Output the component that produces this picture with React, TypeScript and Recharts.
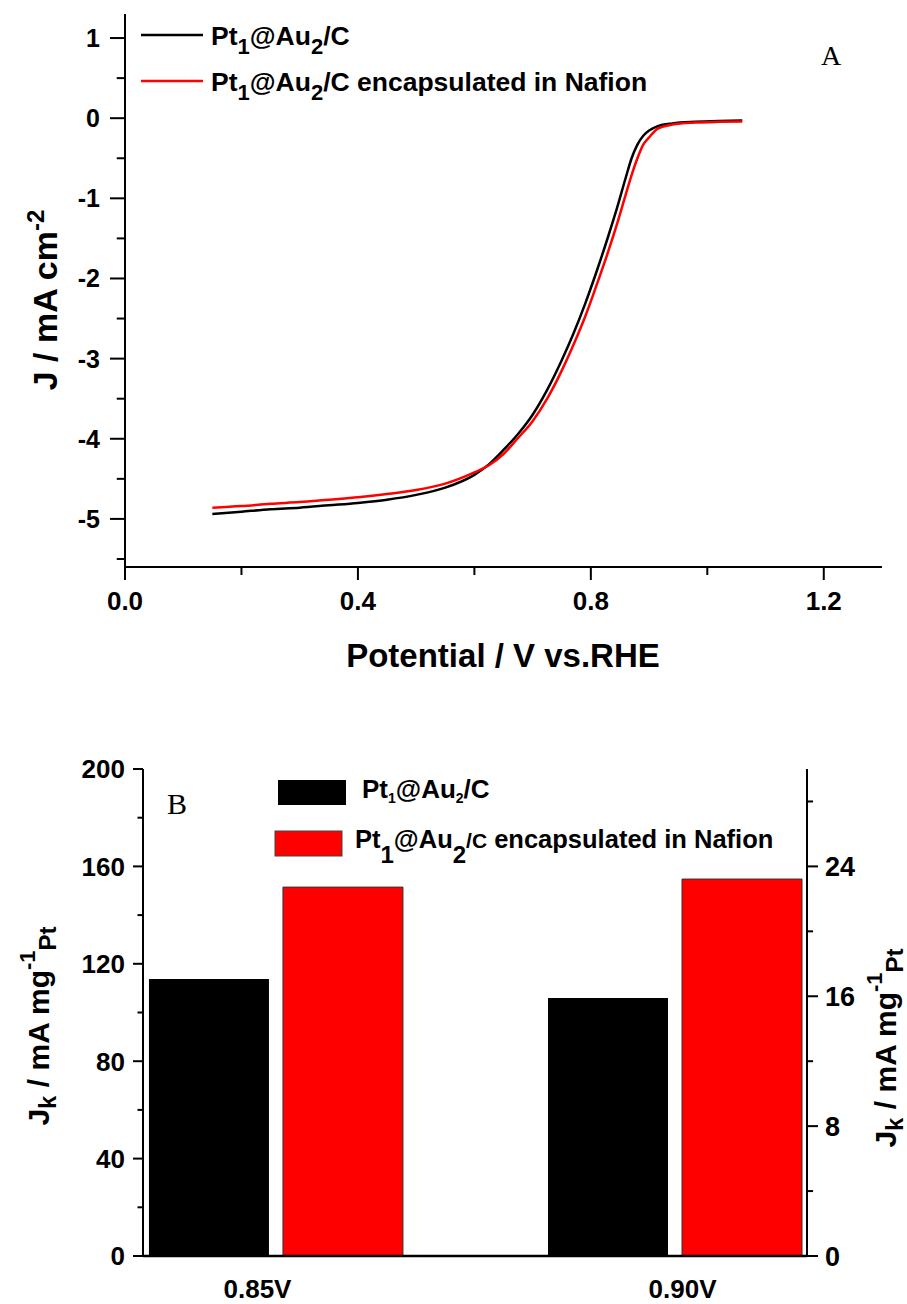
import React from 'react';
import { LineChart, Line, BarChart, Bar, XAxis, YAxis } from 'recharts';

// LSV curves (panel A)
const potential = [0.15, 0.2, 0.25, 0.3, 0.35, 0.4, 0.45, 0.5, 0.55, 0.6, 0.625, 0.65, 0.675, 0.7, 0.725, 0.75, 0.77, 0.79, 0.81, 0.83, 0.845, 0.86, 0.87, 0.88, 0.89, 0.9, 0.915, 0.94, 0.98, 1.02, 1.06];
const jPt = [-4.94, -4.91, -4.88, -4.86, -4.83, -4.8, -4.76, -4.7, -4.61, -4.45, -4.32, -4.14, -3.94, -3.7, -3.39, -3.02, -2.69, -2.32, -1.91, -1.47, -1.12, -0.74, -0.5, -0.33, -0.22, -0.155, -0.1, -0.065, -0.045, -0.035, -0.03];
const jPtNafion = [-4.86, -4.84, -4.81, -4.79, -4.76, -4.73, -4.69, -4.64, -4.56, -4.42, -4.33, -4.19, -3.99, -3.78, -3.5, -3.15, -2.83, -2.48, -2.08, -1.66, -1.32, -0.95, -0.71, -0.5, -0.33, -0.24, -0.13, -0.08, -0.055, -0.045, -0.04];

// mass activity (panel B)
const voltages = [0.85, 0.9];
const voltageLabels = ['0.85V', '0.90V'];
const jkPt = [113.8, 106.0];
const jkPtNafion = [151.5, 154.8];

const lsvTicksY = [-5.5, -5, -4.5, -4, -3.5, -3, -2.5, -2, -1.5, -1, -0.5, 0, 0.5, 1];
const lsvTicksX = [0, 0.2, 0.4, 0.6, 0.8, 1.0, 1.2];
const massTicks = [0, 20, 40, 60, 80, 100, 120, 140, 160, 180, 200];
const massTicksRight = [0, 4, 8, 12, 16, 20, 24, 28];

const lsvData = potential.map((v, i) => ({ v, a: jPt[i], b: jPtNafion[i] }));
const barData = voltages.map((v, i) => ({ v, a: jkPt[i], b: jkPtNafion[i] }));

const FONT = '"Liberation Sans", Arial, sans-serif';
const SERIF = '"Liberation Serif", "Times New Roman", serif';
const AXIS = { stroke: '#000', strokeWidth: 2 };

const isMajor = (v: number, step: number) => Math.abs(v / step - Math.round(v / step)) < 1e-6;

const leftTick = (len: number, gap: number, step: number, size: number, fmt: (v: number) => string) =>
  (props: any) => {
    const { x, y, payload } = props;
    const major = isMajor(payload.value, step);
    return (
      <g>
        <line x1={x - (major ? len : len * 0.55)} x2={x} y1={y} y2={y} stroke="#000" strokeWidth={2} />
        {major && (
          <text x={x - len - gap} y={y + size * 0.36} textAnchor="end" fontFamily={FONT} fontWeight="bold" fontSize={size} fill="#000">
            {fmt(payload.value)}
          </text>
        )}
      </g>
    );
  };

const rightTick = (len: number, gap: number, step: number, size: number) =>
  (props: any) => {
    const { x, y, payload } = props;
    const major = isMajor(payload.value, step);
    return (
      <g>
        <line x1={x} x2={x + (major ? len : len * 0.55)} y1={y} y2={y} stroke="#000" strokeWidth={2} />
        {major && (
          <text x={x + len + gap} y={y + size * 0.36} textAnchor="start" fontFamily={FONT} fontWeight="bold" fontSize={size} fill="#000">
            {payload.value}
          </text>
        )}
      </g>
    );
  };

const LsvXTick = (props: any) => {
  const { x, y, payload } = props;
  const major = isMajor(payload.value, 0.4);
  return (
    <g>
      <line x1={x} x2={x} y1={y} y2={y + (major ? 13 : 8)} stroke="#000" strokeWidth={2} />
      {major && (
        <text x={x} y={y + 43} textAnchor="middle" fontFamily={FONT} fontWeight="bold" fontSize={26} fill="#000">
          {payload.value.toFixed(1)}
        </text>
      )}
    </g>
  );
};

const labelShift = [-18, 8];
const BarXTick = (props: any) => {
  const { x, y, payload } = props;
  const i = voltages.indexOf(payload.value);
  return (
    <text x={x + (labelShift[i] || 0)} y={y + 42} textAnchor="middle" fontFamily={FONT} fontWeight="bold" fontSize={26} fill="#000">
      {voltageLabels[i]}
    </text>
  );
};

const LsvYTick = leftTick(15, 10, 1, 25, (v) => String(v));
const MassYTick = leftTick(10, 8, 40, 26, (v) => String(v));
const MassRightTick = rightTick(11, 7, 8, 27);

const bold = { fontFamily: FONT, fontWeight: 'bold' as const, fill: '#000' };

export default function App() {
  return (
    <div style={{ position: 'absolute', left: 0, top: 0, width: 907, height: 1304, background: '#fff' }}>
      <div style={{ position: 'absolute', left: 0, top: 0 }}>
        <LineChart width={907} height={700} data={lsvData} margin={{ top: 14, right: 25, left: 0, bottom: 0 }}>
          <XAxis dataKey="v" type="number" domain={[0, 1.3]} ticks={lsvTicksX} interval={0} height={133}
            axisLine={AXIS} tickLine={false} tickSize={0} tickMargin={0} tick={LsvXTick} allowDataOverflow />
          <XAxis xAxisId="top" orientation="top" type="number" domain={[0, 1.3]} height={0}
            axisLine={AXIS} tickLine={false} tick={false} allowDataOverflow />
          <YAxis type="number" domain={[-5.6, 1.3]} ticks={lsvTicksY} interval={0} width={125}
            axisLine={AXIS} tickLine={false} tickSize={0} tickMargin={0} tick={LsvYTick} allowDataOverflow />
          <YAxis yAxisId="right" orientation="right" type="number" domain={[-5.6, 1.3]} width={0}
            axisLine={AXIS} tickLine={false} tick={false} allowDataOverflow />
          <Line type="monotone" dataKey="a" stroke="#000" strokeWidth={2.5} dot={false} isAnimationActive={false} />
          <Line type="monotone" dataKey="b" stroke="#ff0000" strokeWidth={2.5} dot={false} isAnimationActive={false} />
        </LineChart>
      </div>
      <div style={{ position: 'absolute', left: 0, top: 700 }}>
        <BarChart width={907} height={604} data={barData} margin={{ top: 69, right: 0, left: 0, bottom: 0 }} barGap={14}>
          <XAxis dataKey="v" type="number" domain={[0.8334, 0.9166]} ticks={voltages} interval={0} height={48}
            axisLine={{ stroke: '#000', strokeWidth: 2.5 }} tickLine={false} tickSize={0} tickMargin={0} tick={BarXTick} allowDataOverflow />
          <XAxis xAxisId="top" orientation="top" type="number" domain={[0.8334, 0.9166]} height={0}
            axisLine={AXIS} tickLine={false} tick={false} allowDataOverflow />
          <YAxis yAxisId="left" type="number" domain={[0, 200]} ticks={massTicks} interval={0} width={143}
            axisLine={AXIS} tickLine={false} tickSize={0} tickMargin={0} tick={MassYTick} allowDataOverflow />
          <YAxis yAxisId="right" orientation="right" type="number" domain={[0, 30]} ticks={massTicksRight} interval={0} width={100}
            axisLine={AXIS} tickLine={false} tickSize={0} tickMargin={0} tick={MassRightTick} allowDataOverflow />
          <Bar yAxisId="left" dataKey="a" fill="#000" barSize={120} isAnimationActive={false} />
          <Bar yAxisId="left" dataKey="b" fill="#ff0000" stroke="#333" strokeWidth={1} barSize={120} isAnimationActive={false} />
        </BarChart>
      </div>
      <svg width={907} height={1304} style={{ position: 'absolute', left: 0, top: 0, pointerEvents: 'none' }}>
        {/* panel A */}
        <text transform="translate(57,300) rotate(-90)" textAnchor="middle" fontSize={34} {...bold}>
          J / mA cm<tspan dy={-13} fontSize={24}>-2</tspan>
        </text>
        <text x={503} y={667} textAnchor="middle" fontSize={33} {...bold}>Potential / V vs.RHE</text>
        <line x1={141} x2={203} y1={35} y2={35} stroke="#000" strokeWidth={2.5} />
        <line x1={141} x2={203} y1={81} y2={81} stroke="#ff0000" strokeWidth={2.5} />
        <text x={211} y={45} fontSize={26.5} {...bold}>
          Pt<tspan dy={9} fontSize={22}>1</tspan><tspan dy={-9}>@Au</tspan><tspan dy={9} fontSize={22}>2</tspan><tspan dy={-9}>/C</tspan>
        </text>
        <text x={211} y={91} fontSize={26.5} {...bold}>
          Pt<tspan dy={9} fontSize={22}>1</tspan><tspan dy={-9}>@Au</tspan><tspan dy={9} fontSize={22}>2</tspan><tspan dy={-9}>/C encapsulated in Nafion</tspan>
        </text>
        <text x={831} y={65} textAnchor="middle" fontFamily={SERIF} fontSize={28} fill="#000">A</text>
        {/* panel B */}
        <text x={167} y={814} fontFamily={SERIF} fontSize={30} fill="#000">B</text>
        <rect x={278} y={780} width={68} height={25} fill="#000" />
        <rect x={275} y={831} width={67} height={25} fill="#ff0000" stroke="#444" strokeWidth={1} />
        <text x={362} y={798} fontSize={26} {...bold}>
          Pt<tspan dy={5} fontSize={14}>1</tspan><tspan dy={-5}>@Au</tspan><tspan dy={5} fontSize={14}>2</tspan><tspan dy={-5}>/C</tspan>
        </text>
        <text x={355} y={848} fontSize={25.5} {...bold}>
          Pt<tspan dy={15} fontSize={24}>1</tspan><tspan dy={-15}>@Au</tspan><tspan dy={15} fontSize={24}>2</tspan><tspan dy={-15} fontSize={21}>/C</tspan><tspan fontSize={25.5}>{'  encapsulated in Nafion'}</tspan>
        </text>
        <text transform="translate(49,1026) rotate(-90)" textAnchor="middle" fontSize={30} {...bold}>
          J<tspan dy={7} fontSize={24}>k</tspan><tspan dy={-7}> / mA mg</tspan><tspan dy={-14} fontSize={22}>-1</tspan><tspan dy={21} fontSize={24}>Pt</tspan>
        </text>
        <text transform="translate(896,1048) rotate(-90)" textAnchor="middle" fontSize={30} {...bold}>
          J<tspan dy={7} fontSize={24}>k</tspan><tspan dy={-7}> / mA mg</tspan><tspan dy={-14} fontSize={22}>-1</tspan><tspan dy={21} fontSize={24}>Pt</tspan>
        </text>
      </svg>
    </div>
  );
}
